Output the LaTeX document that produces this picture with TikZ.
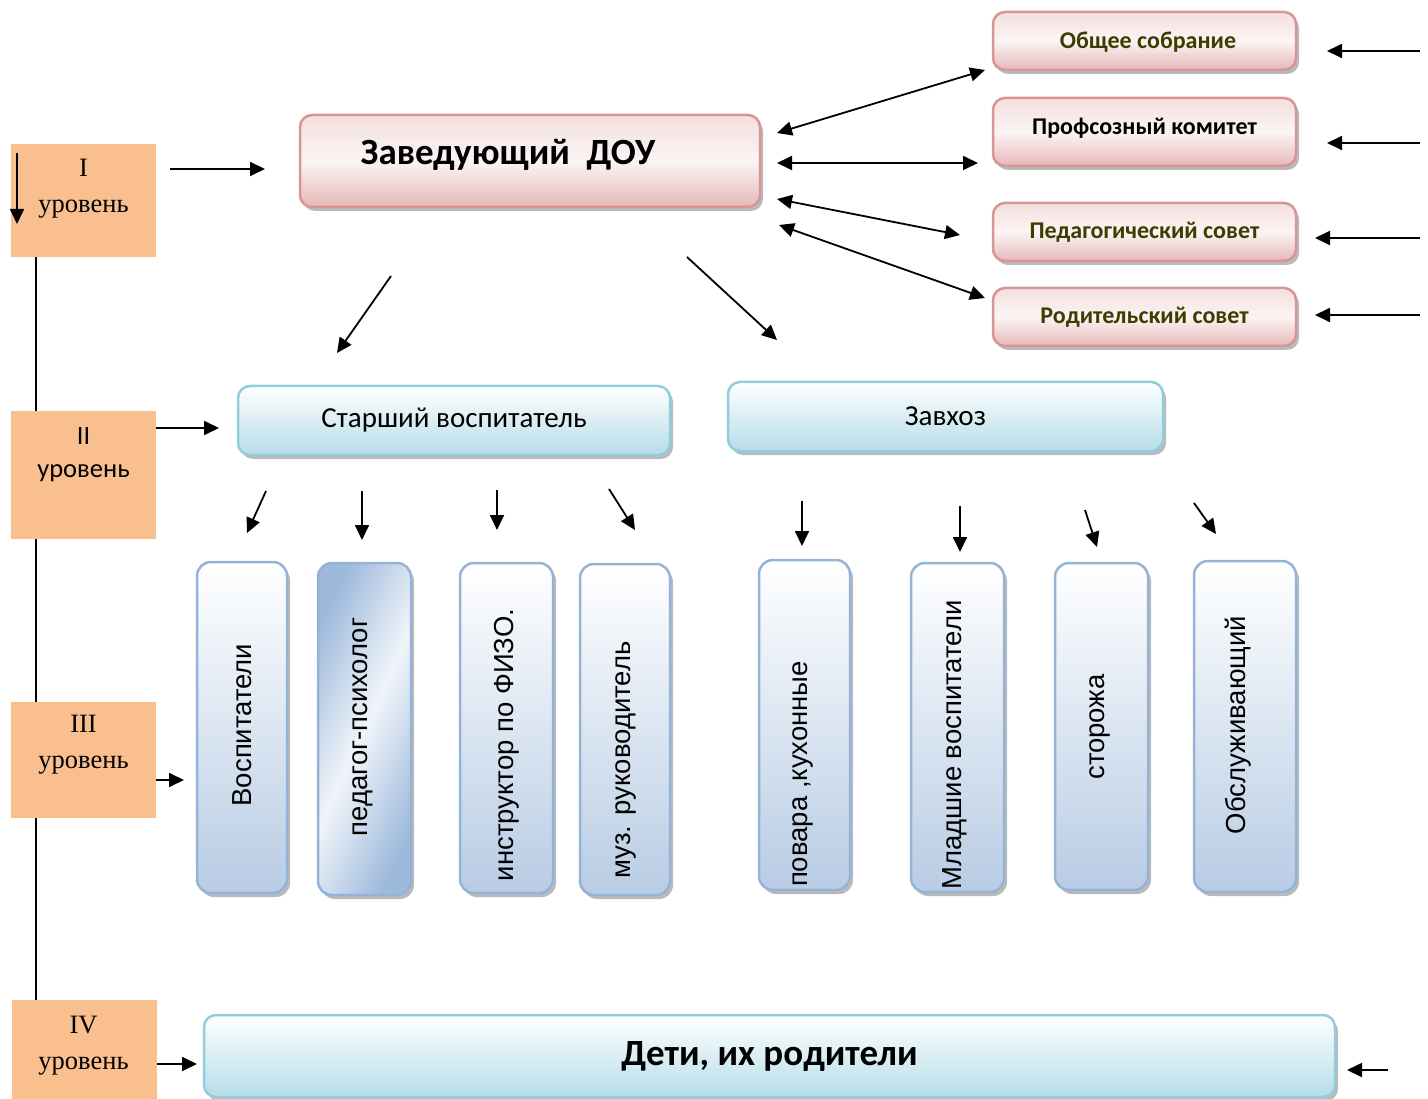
\documentclass[tikz,border=0pt]{standalone}
\usepackage{fontspec}
\setmainfont{Liberation Serif}
\setsansfont{Liberation Sans}
\newfontfamily\calibri{Carlito}
\usetikzlibrary{arrows.meta, positioning, shadows, backgrounds, calc}

\definecolor{lvlfill}{HTML}{FABF8F}
\definecolor{pinkline}{HTML}{D99594}
\definecolor{pinkbot}{HTML}{E5B8B7}
\definecolor{cyanline}{HTML}{92CDDC}
\definecolor{cyanbot}{HTML}{B6DDE8}
\definecolor{blueline}{HTML}{95B3D7}
\definecolor{bluebot}{HTML}{B8CCE4}
\definecolor{bluedark}{HTML}{9DB9DC}
\definecolor{olivetext}{HTML}{3D3D00}

\tikzset{
  arr/.style={line width=1.8pt, -{Triangle[length=15pt,width=14pt]}},
  darr/.style={line width=1.8pt, {Triangle[length=15pt,width=14pt]}-{Triangle[length=15pt,width=14pt]}},
  lvlbox/.style={fill=lvlfill, minimum width=145},
  lvltext/.style={align=center, font=\fontsize{26.5}{36}\selectfont},
  boxshadow/.style={drop shadow={shadow xshift=3pt, shadow yshift=-4pt, opacity=0.45, fill=black!60}},
  pinkbox/.style={boxshadow, draw=pinkline, line width=2.5pt, rounded corners=12pt,
    top color=pinkbot!45, bottom color=pinkbot, middle color=white!85!pinkbot,
    font=\calibri\bfseries\fontsize{24}{27}\selectfont, text=olivetext},
  cyanbox/.style={boxshadow, draw=cyanline, line width=2.5pt, rounded corners=12pt,
    top color=white, bottom color=cyanbot, font=\calibri\fontsize{29}{32}\selectfont},
  vbox/.style={boxshadow, draw=blueline, line width=2.5pt, rounded corners=14pt,
    top color=white, bottom color=bluebot},
  vtext/.style={rotate=90, font=\sffamily\fontsize{27.5}{30}\selectfont},
}

\begin{document}
\begin{tikzpicture}[x=1pt, y=-1pt]
\useasboundingbox (0,0) rectangle (1428,1099);

% levels
\node[lvlbox, minimum height=113] (lvl1) at (83.5,200.5) {};
\node[lvlbox, minimum height=128] (lvl2) at (83.5,475) {};
\node[lvlbox, minimum height=116] (lvl3) at (83.5,760) {};
\node[lvlbox, minimum height=99] (lvl4) at (84.5,1049.5) {};
\node[lvltext] (lvl1t) at (83.5,189) {I\\уровень};
\node[lvltext, font=\calibri\fontsize{26.5}{33}\selectfont] (lvl2t) at (83.5,455) {II\\уровень};
\node[lvltext] (lvl3t) at (83.5,745) {III\\уровень};
\node[lvltext] (lvl4t) at (83.5,1046) {IV\\уровень};
\begin{scope}[on background layer]
\draw[line width=1.4pt] ([xshift=-47.5]lvl1.south) -- ([xshift=-48.5]lvl4.north);
\end{scope}
\coordinate (in1a) at (17,153);
\coordinate (in1b) at (17,224);
\draw[arr] (in1a) -- (in1b);

% top
\node[pinkbox, minimum width=460, minimum height=92] (zav) at (530,161) {};
\node[font=\calibri\bfseries\fontsize{37}{42}\selectfont] (zavt) at (508,155) {Заведующий\ \ ДОУ};

\node[pinkbox, minimum width=303, minimum height=58] (obs) at (1144.5,41) {};
\node[font=\calibri\bfseries\fontsize{24}{27}\selectfont, text=olivetext] (obst) at (1148,42) {Общее собрание};
\node[pinkbox, minimum width=303, minimum height=68] (prof) at (1144.5,132) {};
\node[font=\calibri\bfseries\fontsize{24}{27}\selectfont] (proft) at (1144.5,128) {Профсозный комитет};
\node[pinkbox, minimum width=303, minimum height=58] (ped) at (1144.5,232) {Педагогический совет};
\node[pinkbox, minimum width=303, minimum height=58] (rod) at (1144.5,317) {Родительский совет};

% second row
\node[cyanbox, minimum width=432, minimum height=69] (star) at (454,420.5) {Старший воспитатель};
\node[cyanbox, minimum width=435, minimum height=69] (zavhoz) at (945.5,416.5) {Завхоз};

% staff
\foreach \n/\x/\w/\y/\h/\tx/\ty/\t in {
  vosp/242/90/727.5/331/242/725/Воспитатели,
  fizo/506.5/93/728/330/507/745/инструктор по ФИЗО.,
  muz/625/90/729.5/331/626/760/муз. руководитель,
  povar/804.5/91/725/330/803/774/{повара ,кухонные},
  mlad/957.5/93/727.5/329/955/745/Младшие воспитатели,
  stor/1101.5/93/726.5/327/1100/727/сторожа,
  obsl/1245/102/726.5/331/1238/725/Обслуживающий} {
  \node[vbox, minimum width=\w, minimum height=\h] (\n) at (\x,\y) {};
  \node[vtext] (\n t) at (\tx,\ty) {\t};
}
% psychologist box has its own fill
\node[boxshadow, draw=blueline, line width=2.5pt, rounded corners=14pt,
  left color=bluedark, right color=bluedark, middle color=white!80!bluebot, shading angle=65,
  minimum width=93, minimum height=332] (psych) at (364.5,729) {};
\node[vtext] (psycht) at (363,727) {педагог-психолог};

% bottom
\node[cyanbox, minimum width=1131, minimum height=82, font=\calibri\bfseries\fontsize{37}{40}\selectfont] (deti) at (769.5,1056) {Дети, их родители};

% arrows
\foreach \a/\b/\c/\d [count=\i] in {
  170/169/265/169, 156/428/219/428, 156/780/184/780, 157/1064/197/1064,
  391/276/337/353, 687/257/777/340,
  266/491/247/533, 362/491/362/540, 497/490/497/530, 609/489/635/530,
  802/501/802/546, 960/506/960/552, 1085/510/1097/547, 1194/503/1216/534,
  1420/51/1327/51, 1420/143/1327/143, 1420/238/1315/238, 1420/315/1315/315,
  1388/1070/1347/1070} {
  \coordinate (s\i) at (\a,\b);
  \coordinate (e\i) at (\c,\d);
  \draw[arr] (s\i) -- (e\i);
}
\foreach \a/\b/\c/\d [count=\i] in {
  777/133/985/70, 777/163/978/163, 777/199/960/235, 779/225/985/298} {
  \coordinate (ds\i) at (\a,\b);
  \coordinate (de\i) at (\c,\d);
  \draw[darr] (ds\i) -- (de\i);
}
\end{tikzpicture}
\end{document}
